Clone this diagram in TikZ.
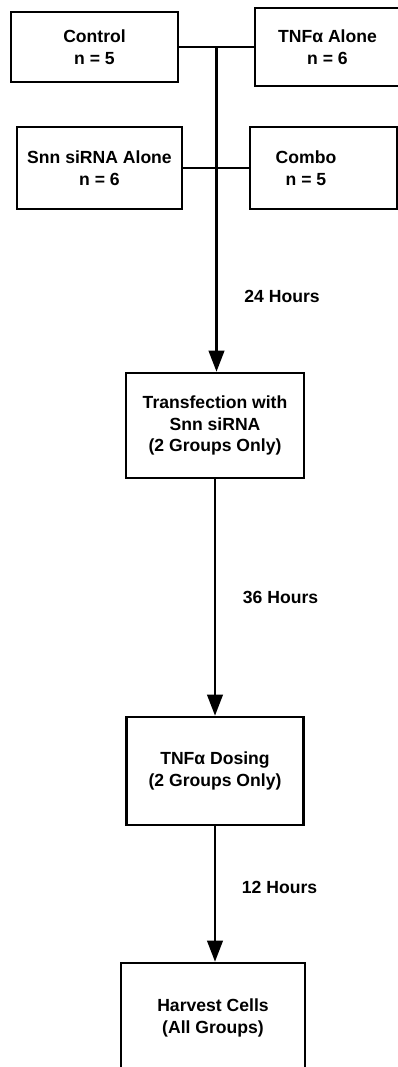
\documentclass[tikz,border=0pt]{standalone}
\usepackage{fontspec}
\setmainfont{Liberation Sans}
\usetikzlibrary{positioning,arrows.meta,calc}

\begin{document}
\begin{tikzpicture}[
  x=0.025cm, y=0.025cm,
  font=\bfseries\fontsize{12.5}{15.5}\selectfont,
  grp/.style={draw, line width=1.8pt, align=center, inner sep=0pt},
  arr/.style={-{Triangle[length=15pt,width=11pt]}, line width=1.9pt},
  lnk/.style={line width=1.9pt},
  hrs/.style={anchor=west}
]
\useasboundingbox (0,0) rectangle (397,-1067);

\node[grp, minimum width=4.175cm, minimum height=1.75cm] (ctrl) at (94.5,-47) {Control\\n = 5};
\node[grp, minimum width=3.625cm, minimum height=1.95cm] (tnf) at (327.5,-47) {TNFα Alone\\n = 6};
\node[grp, minimum width=4.125cm, minimum height=2.05cm] (snn) at (99.5,-168) {Snn siRNA Alone\\n = 6};
\node[grp, minimum width=3.675cm, minimum height=2.05cm] (combo) at (323.5,-168) {};
\node[align=center] (combotxt) at (306,-168) {Combo\\n = 5};

\node[grp, minimum width=4.45cm, minimum height=2.625cm] (trans) at (215,-425.5) {Transfection with\\Snn siRNA\\(2 Groups Only)};
\node[grp, minimum width=4.425cm, minimum height=2.7cm] (dose) at (215,-771) {TNFα Dosing\\(2 Groups Only)};
\node[grp, minimum width=4.6cm, minimum height=2.75cm] (harv) at (213,-1018) {Harvest Cells\\(All Groups)};

\coordinate (hub) at ($(ctrl.east)!0.5!(tnf.west)$);
\draw[lnk] (ctrl.east) -- (tnf.west);
\draw[lnk] (snn.east) -- (combo.west);
\draw[arr] (hub) -- (hub |- trans.north);
\draw[arr] (trans.south) -- (trans.south |- dose.north);
\draw[arr] (dose.south) -- (dose.south |- harv.north);

\node[hrs] (h24) at ($(hub |- snn.south)!0.5!(hub |- trans.north)+(23,-5)$) {24 Hours};
\node[hrs] (h36) at ($(trans.south)!0.5!(dose.north)+(23,0)$) {36 Hours};
\node[hrs] (h12) at ($(dose.south)!0.5!(harv.north)+(23,7)$) {12 Hours};
\end{tikzpicture}
\end{document}
